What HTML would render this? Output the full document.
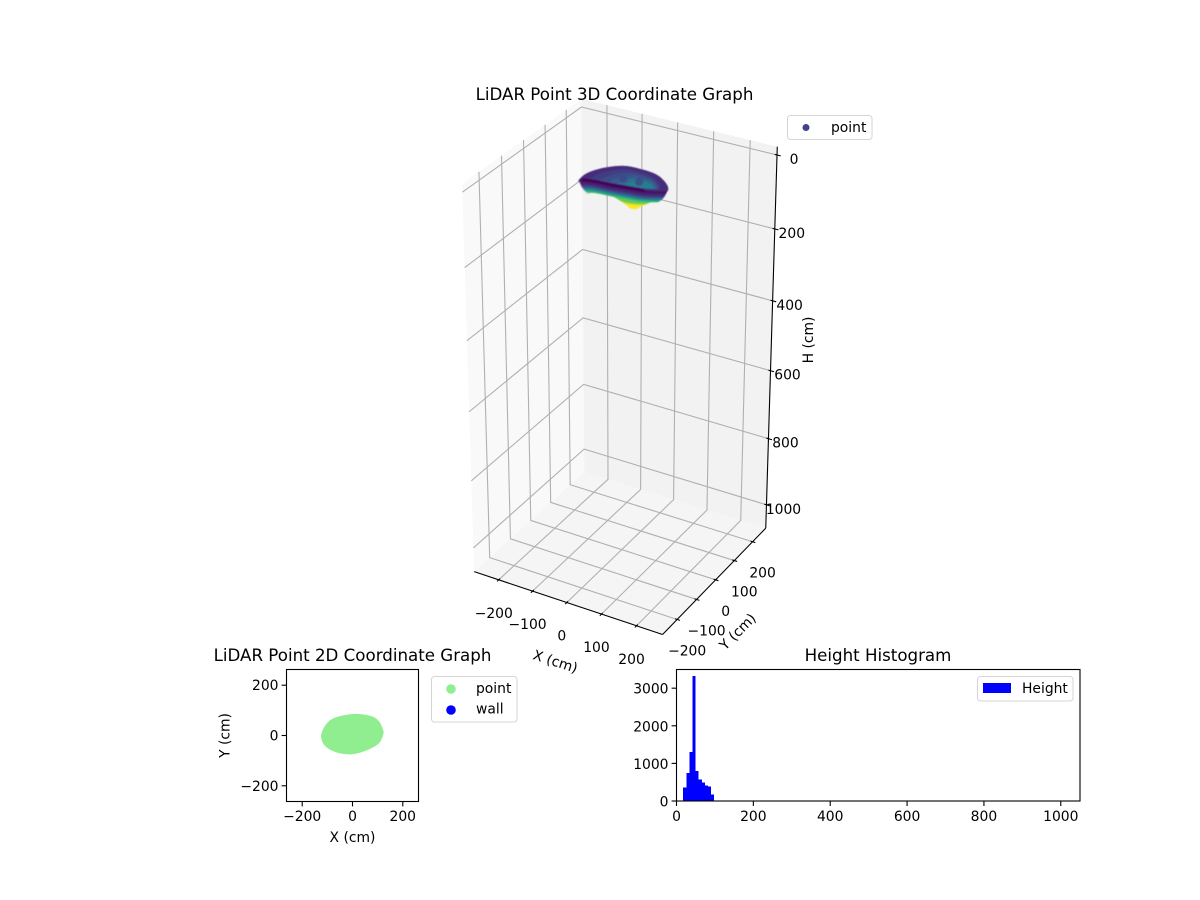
<!DOCTYPE html>
<html>
<head>
<meta charset="utf-8">
<title>LiDAR Point Graphs</title>
<style>
html,body{margin:0;padding:0;background:#fff;width:1200px;height:900px;overflow:hidden}
svg{display:block}
text{font-family:"DejaVu Sans","Liberation Sans",sans-serif;fill:#000}
.t{font-size:13.89px}
.h{font-size:16.67px}
</style>
</head>
<body>
<svg id="fig" xmlns="http://www.w3.org/2000/svg" width="1200" height="900" viewBox="0 0 1200 900">
<g id="g3d"></g>
<text class="h" x="614.5" y="100" text-anchor="middle">LiDAR Point 3D Coordinate Graph</text>
<g>
<rect x="787.5" y="115.5" width="84.5" height="24" rx="3" fill="#fff" stroke="#d5d5d5"/>
<circle cx="806" cy="127.5" r="3.5" fill="#414587"/>
<text class="t" x="831" y="132">point</text>
</g>

<g id="g2d"></g>
<rect x="286.5" y="669.5" width="132" height="132" fill="none" stroke="#000" stroke-width="1.1"/>
<text class="h" x="352.5" y="661" text-anchor="middle">LiDAR Point 2D Coordinate Graph</text>
<text class="t" x="352.5" y="842" text-anchor="middle">X (cm)</text>
<text class="t" transform="translate(229.5,735.5) rotate(-90)" text-anchor="middle">Y (cm)</text>
<g>
<rect x="431.5" y="676.5" width="85.5" height="45.5" rx="3" fill="#fff" stroke="#d5d5d5"/>
<circle cx="451" cy="689" r="4.8" fill="#90ee90"/>
<text class="t" x="476" y="693">point</text>
<circle cx="451" cy="710" r="4.8" fill="#0000ff"/>
<text class="t" x="476" y="713.5">wall</text>
</g>

<g id="gh"></g>
<rect x="676.5" y="669.5" width="403.5" height="131.5" fill="none" stroke="#000" stroke-width="1.1"/>
<text class="h" x="878" y="661" text-anchor="middle">Height Histogram</text>
<g>
<rect x="977.5" y="676.5" width="95.5" height="24.5" rx="3" fill="#fff" stroke="#d5d5d5"/>
<rect x="983" y="683" width="28" height="10" fill="#0000ff"/>
<text class="t" x="1022" y="693">Height</text>
</g>
</svg>

<script>
// ---- chart data ----
var xTicks3D = [-200, -100, 0, 100, 200];
var yTicks3D = [-200, -100, 0, 100, 200];
var zTicks3D = [0, 200, 400, 600, 800, 1000];
var xyLimit3D = 273.4;
var zLimTop = -22;
var zLimBottom = 1072;

var footprintX = [-125, -116, -90, -50, 10, 72, 104, 120, 123, 107, 70, 10, -43, -90, -116];
var footprintY = [-3, 27, 60, 77, 86, 78, 58, 27, 7, -29, -53, -73, -72, -56, -33];

var bulgeHeights = [90, 85, 80, 74, 68, 62];
var bulgeScales = [0.10, 0.14, 0.20, 0.27, 0.34, 0.42];
var bulgeCentreX = [25, 25, 25, 25, 25, 25];
var bulgeCentreY = [12, 12, 12, 12, 12, 12];

var bandHeights = [60, 57.5, 55, 52.5, 50, 47.5, 45, 42.5, 40, 37.5, 35, 32.5, 30, 27.5, 25];
var bandScales = [0.80, 0.83, 0.85, 0.87, 0.89, 0.90, 0.92, 0.93, 0.94, 0.95, 0.96, 0.97, 0.98, 0.99, 1.0];
var bandValues = [60, 56, 52, 47, 42, 38, 34, 31, 28, 26, 25, 24, 23, 22, 21];

var rimX = [-95, -98, -78, -43, 0, 50, 93, 115, 102, 65, 23, -19, -63, -88];
var rimY = [-42, 2, 48, 81, 87, 80, 50, 19, 6, -10, -16, -22, -25, -31];
var rimHeight = 25;
var rimValue = 27;
var lipValue = 20;

var innerValues = [30, 33, 36, 40, 44];
var innerScales = [0.80, 0.66, 0.54, 0.42, 0.30];
var innerCentreX = [0, 12, 24, 34, 42];
var innerCentreY = [14, 13, 12, 11, 10];

var dimpleX = [-8, 33];
var dimpleY = [21, 26];
var dimpleValue = 32;

var colorMin = 20;
var colorMax = 76;
var viridis = ['#440154','#482878','#3e4989','#31688e','#26828e','#1f9e89','#35b779','#6ece58','#b5de2b','#fde725'];

var xTicks2D = [-200, 0, 200];
var yTicks2D = [-200, 0, 200];
var xTicksHist = [0, 200, 400, 600, 800, 1000];
var yTicksHist = [0, 1000, 2000, 3000];
var histStart = 17.5;
var histWidth = 8.07;
var histCounts = [354, 743, 1308, 3330, 804, 566, 495, 407, 380, 168];

// ---- helpers ----
var NS = 'http://www.w3.org/2000/svg';
function make(parent, tag, attrs, txt) {
  var el = document.createElementNS(NS, tag);
  for (var k in attrs) el.setAttribute(k, attrs[k]);
  if (txt !== undefined) el.textContent = txt;
  parent.appendChild(el);
  return el;
}
function label(v) { return String(v).replace('-', '\u2212'); }

// 3D camera (elev 30, azim -60, dist 10)
var S3 = 2850, CX3 = 621.7, CY3 = 364.8, HX = 0.389, HZ = 0.778;
function P3(x, y, z) {
  var a = x / xyLimit3D * HX;
  var b = y / xyLimit3D * HX;
  var c = HZ * (1 - 2 * (z - zLimTop) / (zLimBottom - zLimTop));
  var px = 0.866025 * a + 0.5 * b;
  var py = -0.25 * a + 0.433013 * b + 0.866025 * c;
  var d = 10 - (0.433013 * a - 0.75 * b + 0.5 * c);
  return [CX3 + S3 * px / d, CY3 - S3 * py / d];
}
function pathOf(pts) { return 'M' + pts.map(function (p) { return p[0].toFixed(2) + ' ' + p[1].toFixed(2); }).join('L'); }
function smoothClosed(pts) {
  var n = pts.length;
  var d = 'M' + pts[0][0].toFixed(2) + ' ' + pts[0][1].toFixed(2);
  for (var i = 0; i < n; i++) {
    var p0 = pts[(i - 1 + n) % n], p1 = pts[i], p2 = pts[(i + 1) % n], p3 = pts[(i + 2) % n];
    var c1x = p1[0] + (p2[0] - p0[0]) / 6, c1y = p1[1] + (p2[1] - p0[1]) / 6;
    var c2x = p2[0] - (p3[0] - p1[0]) / 6, c2y = p2[1] - (p3[1] - p1[1]) / 6;
    d += 'C' + c1x.toFixed(2) + ' ' + c1y.toFixed(2) + ' ' + c2x.toFixed(2) + ' ' + c2y.toFixed(2) + ' ' + p2[0].toFixed(2) + ' ' + p2[1].toFixed(2);
  }
  return d + 'Z';
}
function hexToRgb(h) { return [parseInt(h.substr(1, 2), 16), parseInt(h.substr(3, 2), 16), parseInt(h.substr(5, 2), 16)]; }
function colorFor(v) {
  var t = Math.max(0, Math.min(1, (v - colorMin) / (colorMax - colorMin))) * (viridis.length - 1);
  var i = Math.min(viridis.length - 2, Math.floor(t)), f = t - i;
  var a = hexToRgb(viridis[i]), b = hexToRgb(viridis[i + 1]);
  return 'rgb(' + [0, 1, 2].map(function (k) { return Math.round(a[k] + (b[k] - a[k]) * f); }).join(',') + ')';
}

// ---- 3D axes ----
var g3 = document.getElementById('g3d');
var L = xyLimit3D, ZT = zLimTop, ZB = zLimBottom;
var paneLeft = make(g3, 'path', { d: pathOf([P3(-L, -L, ZB), P3(-L, L, ZB), P3(-L, L, ZT), P3(-L, -L, ZT)]) + 'Z', fill: '#f9f9f9' });


var paneRight = make(g3, 'path', { d: pathOf([P3(-L, L, ZB), P3(L, L, ZB), P3(L, L, ZT), P3(-L, L, ZT)]) + 'Z', fill: '#f2f2f2' });


var paneFloor = make(g3, 'path', { d: pathOf([P3(-L, -L, ZB), P3(L, -L, ZB), P3(L, L, ZB), P3(-L, L, ZB)]) + 'Z', fill: '#f5f5f5' });



var gridStyle = { fill: 'none', stroke: '#b0b0b0', 'stroke-width': 1.1 };
function gridLine(pts) {
  var attrs = { d: pathOf(pts) };
  for (var k in gridStyle) attrs[k] = gridStyle[k];
  return make(g3, 'path', attrs);
}
xTicks3D.forEach(function (t) {
  var g = gridLine([P3(t, -L, ZB), P3(t, L, ZB), P3(t, L, ZT)]);
  
  
});
yTicks3D.forEach(function (t) {
  var g = gridLine([P3(L, t, ZB), P3(-L, t, ZB), P3(-L, t, ZT)]);
  
  
});
zTicks3D.forEach(function (t) {
  var g = gridLine([P3(-L, -L, t), P3(-L, L, t), P3(L, L, t)]);
  
  
});

var xAxisLine = make(g3, 'path', { d: pathOf([P3(-L, -L, ZB), P3(L, -L, ZB)]), stroke: '#000', 'stroke-width': 1.1, fill: 'none' });


var yAxisLine = make(g3, 'path', { d: pathOf([P3(L, -L, ZB), P3(L, L, ZB)]), stroke: '#000', 'stroke-width': 1.1, fill: 'none' });


var zAxisLine = make(g3, 'path', { d: pathOf([P3(L, L, ZT), P3(L, L, ZB)]), stroke: '#000', 'stroke-width': 1.1, fill: 'none' });



function tick3(parent, a, b) {
  return make(parent, 'path', { d: pathOf([a, b]), stroke: '#000', 'stroke-width': 1.1, fill: 'none' });
}
xTicks3D.forEach(function (t) {
  var m = tick3(g3, P3(t, -L - 8, ZB), P3(t, -L + 6, ZB));
  
  
  var p = P3(t, -L, ZB);
  var l = make(g3, 'text', { 'class': 't', x: p[0] - 5, y: p[1] + 38, 'text-anchor': 'middle' }, label(t));
  
  
});
yTicks3D.forEach(function (t) {
  var m = tick3(g3, P3(L - 6, t, ZB), P3(L + 8, t, ZB));
  
  
  var p = P3(L, t, ZB);
  var l = make(g3, 'text', { 'class': 't', x: p[0] + 10, y: p[1] + 36, 'text-anchor': 'middle' }, label(t));
  
  
});
zTicks3D.forEach(function (t) {
  var m = tick3(g3, P3(L - 6, L, t), P3(L + 10, L, t));
  
  
  var p = P3(L, L, t);
  var l = make(g3, 'text', { 'class': 't', x: p[0] + 17, y: p[1] + 9, 'text-anchor': 'middle' }, label(t));
  
  
});
var xTitle = make(g3, 'text', { 'class': 't', transform: 'translate(554,666) rotate(18)', 'text-anchor': 'middle' }, 'X (cm)');


var yTitle = make(g3, 'text', { 'class': 't', transform: 'translate(741,635) rotate(-45)', 'text-anchor': 'middle' }, 'Y (cm)');


var zTitle = make(g3, 'text', { 'class': 't', transform: 'translate(813,340) rotate(-90)', 'text-anchor': 'middle' }, 'H (cm)');



// ---- 3D point cloud ----
var cloud = make(g3, 'g', { style: 'filter:blur(0.5px)' });


bulgeHeights.forEach(function (h, i) {
  var pts = footprintX.map(function (fx, j) {
    return P3(bulgeCentreX[i] + fx * bulgeScales[i], bulgeCentreY[i] + footprintY[j] * bulgeScales[i], h);
  });
  var ring = make(cloud, 'path', { d: smoothClosed(pts), fill: colorFor(h) });
  
  
});
bandHeights.forEach(function (h, i) {
  var pts = rimX.map(function (x, j) {
    return P3(-4 + (x + 4) * bandScales[i], 15 + (rimY[j] - 15) * bandScales[i], h);
  });
  var ring = make(cloud, 'path', { d: smoothClosed(pts), fill: colorFor(bandValues[i]) });
  
  
});
var rimPts = rimX.map(function (x, j) { return P3(x, rimY[j], rimHeight); });
var rim = make(cloud, 'path', { d: smoothClosed(rimPts), fill: colorFor(rimValue) });


innerValues.forEach(function (v, i) {
  var pts = rimX.map(function (x, j) {
    return P3(innerCentreX[i] + (x + 4) * innerScales[i], innerCentreY[i] + (rimY[j] - 15) * innerScales[i], rimHeight);
  });
  var ring = make(cloud, 'path', { d: smoothClosed(pts), fill: colorFor(v) });
  
  
});
dimpleX.forEach(function (x, i) {
  var p = P3(x, dimpleY[i], rimHeight);
  var c = make(cloud, 'circle', { cx: p[0], cy: p[1], r: 4.2, fill: colorFor(dimpleValue), opacity: 0.75 });
  
  
});
var lip = make(cloud, 'path', { d: pathOf(rimPts.slice(9)), fill: 'none', stroke: colorFor(lipValue), 'stroke-width': 2.5, 'stroke-linecap': 'round', 'stroke-linejoin': 'round' });



// ---- 2D scatter ----
var g2 = document.getElementById('g2d');
function x2(v) { return 352.5 + v * 132 / 525; }
function y2(v) { return 735.5 - v * 132 / 525; }
var blob2d = make(g2, 'path', { d: smoothClosed(footprintX.map(function (x, j) { return [x2(x), y2(footprintY[j])]; })), fill: '#90ee90' });


xTicks2D.forEach(function (t) {
  var m = make(g2, 'line', { x1: x2(t), x2: x2(t), y1: 801.5, y2: 806.4, stroke: '#000', 'stroke-width': 1.1 });
  
  
  var l = make(g2, 'text', { 'class': 't', x: x2(t), y: 821, 'text-anchor': 'middle' }, label(t));
  
  
});
yTicks2D.forEach(function (t) {
  var m = make(g2, 'line', { x1: 281.6, x2: 286.5, y1: y2(t), y2: y2(t), stroke: '#000', 'stroke-width': 1.1 });
  
  
  var l = make(g2, 'text', { 'class': 't', x: 278.5, y: y2(t) + 5, 'text-anchor': 'end' }, label(t));
  
  
});

// ---- histogram ----
var gh = document.getElementById('gh');
function xh(v) { return 676.5 + v * 403.5 / 1050; }
function yh(v) { return 801 - v * 131.5 / 3497; }
histCounts.forEach(function (c, i) {
  var a = xh(histStart + i * histWidth), b = xh(histStart + (i + 1) * histWidth);
  var bar = make(gh, 'rect', { x: a, y: yh(c), width: b - a, height: 801 - yh(c), fill: '#0000ff', 'shape-rendering': 'crispEdges' });
  
  
});
xTicksHist.forEach(function (t) {
  var m = make(gh, 'line', { x1: xh(t), x2: xh(t), y1: 801, y2: 806, stroke: '#000', 'stroke-width': 1.1 });
  
  
  var l = make(gh, 'text', { 'class': 't', x: xh(t), y: 821, 'text-anchor': 'middle' }, label(t));
  
  
});
yTicksHist.forEach(function (t) {
  var m = make(gh, 'line', { x1: 671.6, x2: 676.5, y1: yh(t), y2: yh(t), stroke: '#000', 'stroke-width': 1.1 });
  
  
  var l = make(gh, 'text', { 'class': 't', x: 668.5, y: yh(t) + 5.5, 'text-anchor': 'end' }, label(t));
  
  
});
</script>
</body>
</html>
